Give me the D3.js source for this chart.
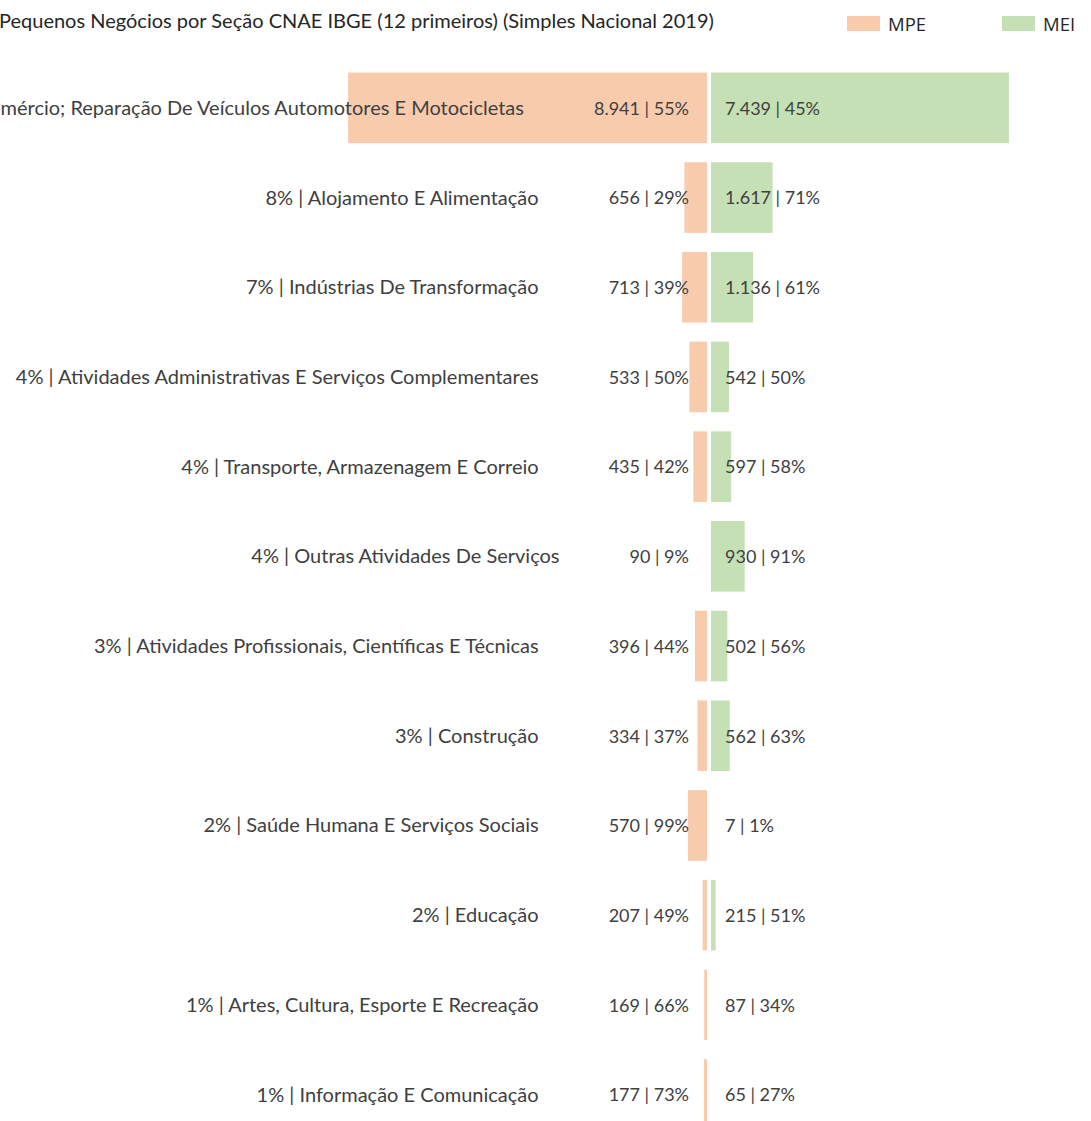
<!DOCTYPE html>
<html>
<head>
<meta charset="utf-8">
<script src="https://cdn.jsdelivr.net/npm/d3@7"></script>
<style>
  html, body { margin: 0; padding: 0; background: #fff; overflow: hidden; }
  svg { display: block; }
  text { font-family: Lato, "Noto Sans", sans-serif; }
</style>
</head>
<body>
<svg id="chart" width="1091" height="1121"></svg>
<script>
// Seção CNAE (12 primeiras), com a participação no total de pequenos negócios
const categories = [
  "Comércio; Reparação De Veículos Automotores E Motocicletas",
  "Alojamento E Alimentação",
  "Indústrias De Transformação",
  "Atividades Administrativas E Serviços Complementares",
  "Transporte, Armazenagem E Correio",
  "Outras Atividades De Serviços",
  "Atividades Profissionais, Científicas E Técnicas",
  "Construção",
  "Saúde Humana E Serviços Sociais",
  "Educação",
  "Artes, Cultura, Esporte E Recreação",
  "Informação E Comunicação"
];
const shareOfTotal = [60, 8, 7, 4, 4, 4, 3, 3, 2, 2, 1, 1];
const mpeValues = [8941, 656, 713, 533, 435, 90, 396, 334, 570, 207, 169, 177];
const meiValues = [7439, 1617, 1136, 542, 597, 930, 502, 562, 7, 215, 87, 65];
const seriesNames = ["MPE", "MEI"];
const seriesColors = ["#F8CBAD", "#C5E0B4"];
const titleText = "Pequenos Negócios por Seção CNAE IBGE (12 primeiros) (Simples Nacional 2019)";

const svg = d3.select("#chart");

const ptBR = d3.formatLocale({ decimal: ",", thousands: ".", grouping: [3], currency: ["R$", ""] });
const fmtNum = ptBR.format(",d");

const rows = categories.map((c, i) => {
  const tot = mpeValues[i] + meiValues[i];
  return {
    cat: c,
    share: shareOfTotal[i],
    mpe: mpeValues[i],
    mei: meiValues[i],
    mpePct: Math.round(mpeValues[i] / tot * 100),
    meiPct: Math.round(meiValues[i] / tot * 100)
  };
});

// layout
const centerLeft = 707;   // right edge of MPE bars
const centerRight = 711;  // left edge of MEI bars

const y = d3.scaleBand()
  .domain(categories)
  .range([63, 63 + 12 * 89.7])
  .paddingInner(0.213)
  .paddingOuter(0.1065);

// bar length scale, shared by both sides (axis starts at 100)
const len = d3.scaleLinear().domain([100, 9000]).range([0, 361.3]).clamp(true);

const g = svg.append("g");

// MPE bars (to the left)
g.selectAll("rect.mpe").data(rows).join("rect")
  .attr("class", "mpe")
  .attr("x", d => centerLeft - len(d.mpe))
  .attr("y", d => y(d.cat))
  .attr("width", d => len(d.mpe))
  .attr("height", y.bandwidth())
  .attr("fill", seriesColors[0]);

// MEI bars (to the right)
g.selectAll("rect.mei").data(rows).join("rect")
  .attr("class", "mei")
  .attr("x", centerRight)
  .attr("y", d => y(d.cat))
  .attr("width", d => len(d.mei))
  .attr("height", y.bandwidth())
  .attr("fill", seriesColors[1]);

const labelColor = "#404040";
const valueFs = 18;
const catFs = 20;

// value labels
const mpeLabels = g.selectAll("text.mpeLbl").data(rows).join("text")
  .attr("class", "mpeLbl")
  .attr("x", 689)
  .attr("y", d => y(d.cat) + y.bandwidth() / 2)
  .attr("dy", "0.38em")
  .attr("text-anchor", "end")
  .attr("font-size", valueFs)
  .attr("fill", labelColor)
  .text(d => `${fmtNum(d.mpe)} | ${d.mpePct}%`);

g.selectAll("text.meiLbl").data(rows).join("text")
  .attr("class", "meiLbl")
  .attr("x", 725)
  .attr("y", d => y(d.cat) + y.bandwidth() / 2)
  .attr("dy", "0.38em")
  .attr("text-anchor", "start")
  .attr("font-size", valueFs)
  .attr("fill", labelColor)
  .text(d => `${fmtNum(d.mei)} | ${d.meiPct}%`);

// category labels sit a fixed gap before the MPE value label
const gap = 70;
const mpeWidths = [];
mpeLabels.each(function () { mpeWidths.push(this.getComputedTextLength()); });

g.selectAll("text.cat").data(rows).join("text")
  .attr("class", "cat")
  .attr("x", (d, i) => 689 - mpeWidths[i] - gap)
  .attr("y", d => y(d.cat) + y.bandwidth() / 2)
  .attr("dy", "0.35em")
  .attr("text-anchor", "end")
  .attr("font-size", catFs)
  .attr("fill", labelColor)
  .text(d => `${d.share}% | ${d.cat}`);

// title
svg.append("text")
  .attr("x", -1)
  .attr("y", 28)
  .attr("font-size", catFs)
  .attr("fill", "#262626")
  .text(titleText);

// legend
const legendX = [847, 1002];
const lg = svg.append("g").attr("class", "legend");
seriesNames.forEach((name, i) => {
  lg.append("rect")
    .attr("x", legendX[i]).attr("y", 16)
    .attr("width", 33).attr("height", 15)
    .attr("fill", seriesColors[i]);
  lg.append("text")
    .attr("x", legendX[i] + 41).attr("y", 30.5)
    .attr("font-size", 18.5)
    .attr("fill", "#262626")
    .style("font-family", "'Open Sans', sans-serif")
    .text(name);
});
</script>
</body>
</html>
